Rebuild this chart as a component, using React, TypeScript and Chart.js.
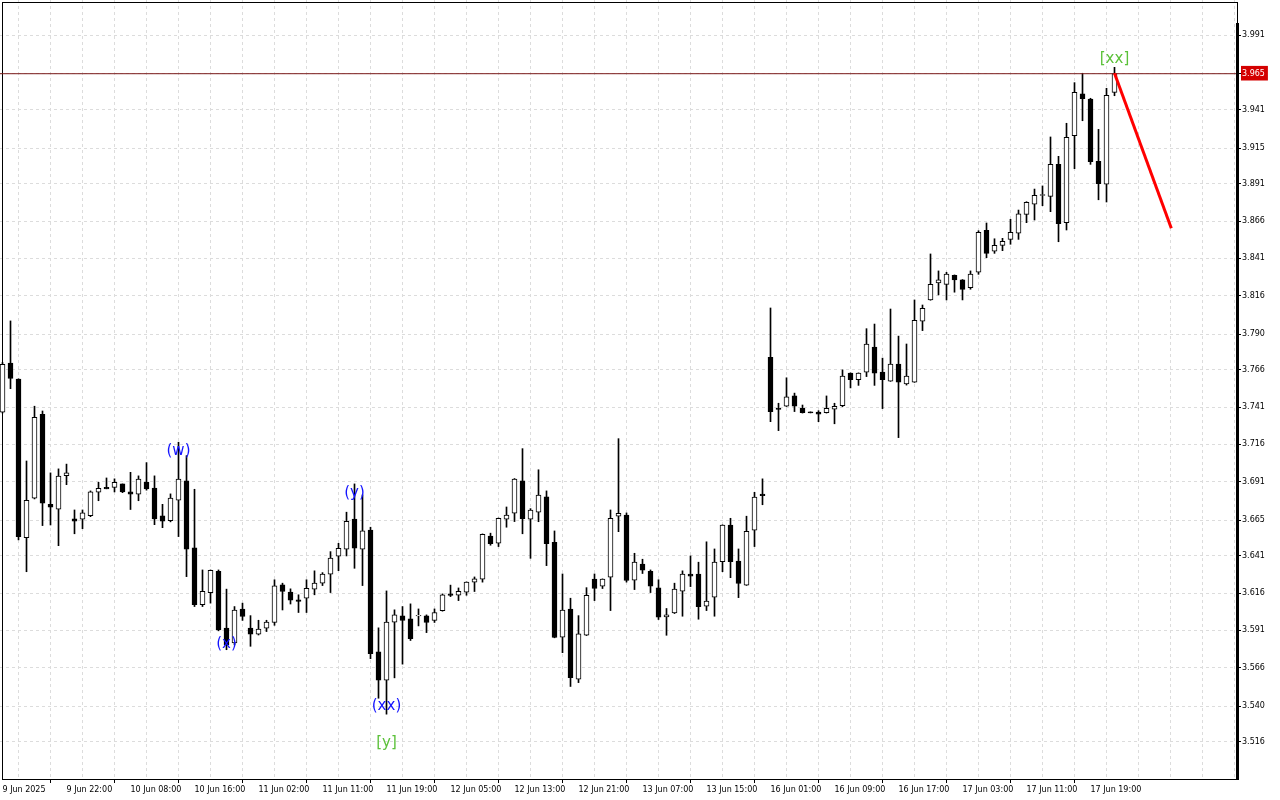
import React, { useEffect, useRef } from 'react';
import { Chart, registerables } from 'chart.js';

Chart.register(...registerables);

// ---- data ----
const xTickLabels = [
  '9 Jun 2025', '9 Jun 22:00', '10 Jun 08:00', '10 Jun 16:00', '11 Jun 02:00', '11 Jun 11:00',
  '11 Jun 19:00', '12 Jun 05:00', '12 Jun 13:00', '12 Jun 21:00', '13 Jun 07:00', '13 Jun 15:00',
  '16 Jun 01:00', '16 Jun 09:00', '16 Jun 17:00', '17 Jun 03:00', '17 Jun 11:00', '17 Jun 19:00',
];
const yTickLabels = [
  '3.991', '3.965', '3.941', '3.915', '3.891', '3.866', '3.841', '3.816', '3.790', '3.766',
  '3.741', '3.716', '3.691', '3.665', '3.641', '3.616', '3.591', '3.566', '3.540', '3.516',
];

const opens = [
  3.7376, 3.7705, 3.7598, 3.6533, 3.6798, 3.7362, 3.6757, 3.6724, 3.6950, 3.6659,
  3.6657, 3.6681, 3.6838, 3.6871, 3.6871, 3.6894, 3.6840, 3.6825, 3.6907, 3.6866,
  3.6679, 3.6647, 3.6784, 3.6914, 3.6464, 3.6083, 3.6164, 3.6307, 3.5925, 3.5826,
  3.6053, 3.5925, 3.5884, 3.5925, 3.5963, 3.6216, 3.6167, 3.6115, 3.6126, 3.6187,
  3.6227, 3.6288, 3.6408, 3.6455, 3.6657, 3.6455, 3.6584, 3.5765, 3.5575, 3.5965,
  3.6007, 3.5988, 3.6007, 3.6007, 3.5976, 3.6043, 3.6155, 3.6146, 3.6167, 3.6234,
  3.6254, 3.6543, 3.6496, 3.6657, 3.6697, 3.6914, 3.6657, 3.6704, 3.6807, 3.6502,
  3.5864, 3.6053, 3.5582, 3.5877, 3.6254, 3.6207, 3.6268, 3.6677, 3.6684, 3.6248,
  3.6355, 3.6307, 3.6196, 3.6001, 3.6028, 3.6173, 3.6288, 3.6288, 3.6073, 3.6133,
  3.6372, 3.6617, 3.6375, 3.6214, 3.6583, 3.6825, 3.7745, 3.7402, 3.7416, 3.7486,
  3.7402, 3.7378, 3.7377, 3.7372, 3.7396, 3.7420, 3.7638, 3.7595, 3.7645, 3.7814,
  3.7645, 3.7585, 3.7699, 3.7565, 3.7578, 3.7987, 3.8130, 3.8244, 3.8235, 3.8296,
  3.8265, 3.8213, 3.8316, 3.8598, 3.8457, 3.8497, 3.8537, 3.8578, 3.8705, 3.8773,
  3.8832, 3.8826, 3.9041, 3.8649, 3.9233, 3.9514, 3.9480, 3.9061, 3.8907, 3.9525,
];
const highs = [
  3.7710, 3.7989, 3.7600, 3.7048, 3.7416, 3.7384, 3.6968, 3.6995, 3.7027, 3.6719,
  3.6719, 3.6847, 3.6905, 3.6934, 3.6928, 3.6894, 3.6972, 3.6948, 3.7037, 3.6948,
  3.6757, 3.6827, 3.7174, 3.7084, 3.6858, 3.6316, 3.6316, 3.6316, 3.6187, 3.6070,
  3.6093, 3.6009, 3.5978, 3.5978, 3.6250, 3.6227, 3.6189, 3.6149, 3.6250, 3.6310,
  3.6298, 3.6439, 3.6495, 3.6704, 3.6894, 3.6820, 3.6603, 3.5927, 3.6175, 3.6048,
  3.6070, 3.6088, 3.6054, 3.6014, 3.6054, 3.6155, 3.6214, 3.6195, 3.6236, 3.6269,
  3.6558, 3.6563, 3.6665, 3.6739, 3.6930, 3.7131, 3.6728, 3.6989, 3.6847, 3.6578,
  3.6289, 3.6126, 3.6009, 3.6197, 3.6289, 3.6256, 3.6719, 3.7198, 3.6699, 3.6428,
  3.6388, 3.6316, 3.6250, 3.6057, 3.6227, 3.6310, 3.6410, 3.6368, 3.6505, 3.6457,
  3.6619, 3.6663, 3.6457, 3.6677, 3.6838, 3.6928, 3.8076, 3.7436, 3.7607, 3.7504,
  3.7424, 3.7378, 3.7386, 3.7485, 3.7436, 3.7660, 3.7640, 3.7640, 3.7937, 3.7968,
  3.7739, 3.8069, 3.7887, 3.7834, 3.8130, 3.8096, 3.8439, 3.8325, 3.8316, 3.8298,
  3.8267, 3.8325, 3.8595, 3.8647, 3.8541, 3.8544, 3.8672, 3.8734, 3.8790, 3.8875,
  3.8896, 3.9225, 3.9095, 3.9317, 3.9590, 3.9653, 3.9485, 3.9276, 3.9552, 3.9693,
];
const lows = [
  3.7370, 3.7534, 3.6518, 3.6304, 3.6793, 3.6614, 3.6618, 3.6479, 3.6889, 3.6559,
  3.6593, 3.6674, 3.6781, 3.6861, 3.6840, 3.6835, 3.6722, 3.6781, 3.6852, 3.6620,
  3.6600, 3.6639, 3.6540, 3.6271, 3.6070, 3.6070, 3.6093, 3.5907, 3.5780, 3.5813,
  3.5977, 3.5803, 3.5879, 3.5902, 3.5944, 3.6047, 3.6087, 3.6030, 3.6030, 3.6149,
  3.6211, 3.6164, 3.6311, 3.6410, 3.6327, 3.6211, 3.5720, 3.5454, 3.5347, 3.5591,
  3.5683, 3.5842, 3.5940, 3.5895, 3.5963, 3.6039, 3.6137, 3.6110, 3.6146, 3.6171,
  3.6234, 3.6482, 3.6473, 3.6603, 3.6641, 3.6559, 3.6394, 3.6640, 3.6345, 3.5860,
  3.5760, 3.5533, 3.5559, 3.5875, 3.6110, 3.6191, 3.6043, 3.6573, 3.6234, 3.6184,
  3.6292, 3.6164, 3.5983, 3.5877, 3.6023, 3.6005, 3.6204, 3.5985, 3.6043, 3.6005,
  3.6304, 3.6264, 3.6130, 3.6212, 3.6473, 3.6754, 3.7312, 3.7252, 3.7414, 3.7380,
  3.7370, 3.7371, 3.7312, 3.7370, 3.7298, 3.7413, 3.7539, 3.7556, 3.7615, 3.7556,
  3.7400, 3.7583, 3.7205, 3.7558, 3.7576, 3.7924, 3.8128, 3.8164, 3.8130, 3.8182,
  3.8130, 3.8202, 3.8302, 3.8414, 3.8443, 3.8461, 3.8504, 3.8537, 3.8649, 3.8667,
  3.8763, 3.8723, 3.8521, 3.8600, 3.9012, 3.9334, 3.9041, 3.8803, 3.8788, 3.9502,
];
const closes = [
  3.7698, 3.7602, 3.6540, 3.6784, 3.7342, 3.6764, 3.6737, 3.6946, 3.6968, 3.6643,
  3.6699, 3.6840, 3.6864, 3.6861, 3.6905, 3.6840, 3.6825, 3.6926, 3.6861, 3.6659,
  3.6643, 3.6798, 3.6926, 3.6455, 3.6083, 3.6173, 3.6314, 3.5913, 3.5813, 3.6046,
  3.6003, 3.5884, 3.5918, 3.5965, 3.6209, 3.6171, 3.6113, 3.6104, 3.6193, 3.6227,
  3.6288, 3.6395, 3.6462, 3.6643, 3.6462, 3.6578, 3.5754, 3.5575, 3.5965, 3.6014,
  3.5976, 3.5854, 3.6011, 3.5963, 3.6030, 3.6149, 3.6144, 3.6173, 3.6234, 3.6256,
  3.6556, 3.6493, 3.6663, 3.6684, 3.6926, 3.6661, 3.6719, 3.6819, 3.6493, 3.5862,
  3.6046, 3.5593, 3.5886, 3.6146, 3.6191, 3.6254, 3.6663, 3.6697, 3.6245, 3.6368,
  3.6314, 3.6207, 3.5999, 3.6014, 3.6187, 3.6288, 3.6274, 3.6070, 3.6106, 3.6368,
  3.6617, 3.6372, 3.6225, 3.6576, 3.6805, 3.6815, 3.7380, 3.7395, 3.7479, 3.7416,
  3.7372, 3.7371, 3.7362, 3.7402, 3.7416, 3.7618, 3.7595, 3.7638, 3.7834, 3.7638,
  3.7595, 3.7699, 3.7578, 3.7618, 3.7993, 3.8074, 3.8235, 3.8265, 3.8303, 3.8265,
  3.8201, 3.8303, 3.8584, 3.8443, 3.8497, 3.8524, 3.8584, 3.8709, 3.8786, 3.8833,
  3.8838, 3.9041, 3.8642, 3.9223, 3.9525, 3.9482, 3.9059, 3.8911, 3.9505, 3.9651,
];

const currentPrice = 3.965;
const forecastIdx = [139, 146.1];
const forecastVals = [3.9653, 3.8611];

const waveTexts = ['(w)', '(x)', '(y)', '(xx)', '[y]', '[xx]'];
const waveIdx = [22, 28, 44, 48, 48, 139];
const waveVals = [3.7115, 3.5818, 3.6831, 3.5404, 3.5155, 3.9749];
const waveDegree = ['minor', 'minor', 'minor', 'minor', 'major', 'major'];

// ---- style ----
const FONT = 'DejaVu Sans';
const GRID = '#dcdcdc';
const DEGREE_COLOR: Record<string, string> = { minor: '#1414ff', major: '#5cc13a' };
const X_MIN = -0.3125;
const X_MAX = 154.4375;
const Y_MIN = 3.49114;
const Y_MAX = 4.01452;

const framePlugin = {
  id: 'frame',
  beforeDatasetsDraw(chart: any) {
    const { ctx, chartArea } = chart;
    ctx.save();
    ctx.strokeStyle = '#000';
    ctx.lineWidth = 1;
    ctx.beginPath();
    ctx.moveTo(2, 2.5);
    ctx.lineTo(chartArea.right, 2.5);
    ctx.moveTo(2.5, 2);
    ctx.lineTo(2.5, chartArea.bottom + 1);
    ctx.moveTo(chartArea.right - 0.5, 2);
    ctx.lineTo(chartArea.right - 0.5, 24);
    ctx.stroke();
    ctx.restore();
  },
  afterDraw(chart: any) {
    const { ctx, chartArea } = chart;
    ctx.save();
    ctx.fillStyle = '#000';
    ctx.fillRect(chartArea.right - 2, 23, 3, chartArea.bottom - 23 + 1);
    ctx.fillRect(2, chartArea.bottom, chartArea.right - 2, 1);
    ctx.restore();
  },
};

const wavePlugin = {
  id: 'waves',
  afterDatasetsDraw(chart: any) {
    const { ctx } = chart;
    const xs = chart.scales.x;
    const ys = chart.scales.y;
    ctx.save();
    ctx.font = `15px "${FONT}"`;
    ctx.textAlign = 'center';
    ctx.textBaseline = 'middle';
    waveTexts.forEach((t, k) => {
      ctx.fillStyle = DEGREE_COLOR[waveDegree[k]];
      ctx.fillText(t, xs.getPixelForValue(waveIdx[k]), ys.getPixelForValue(waveVals[k]));
    });
    ctx.restore();
  },
};

export default function App() {
  const ref = useRef<HTMLCanvasElement>(null);
  useEffect(() => {
    document.body.style.margin = '0';
    const idx = opens.map((_, i) => i);
    const bodyData = idx.map((i) => ({ x: i, y: [opens[i], closes[i]] }));
    const wickData = idx.map((i) => ({ x: i, y: [lows[i], highs[i]] }));
    const bodyFill = idx.map((i) => (closes[i] >= opens[i] ? '#ffffff' : '#000000'));
    const priceLine = [
      { x: X_MIN - 1, y: currentPrice },
      { x: X_MAX + 1, y: currentPrice },
    ];
    const forecast = forecastIdx.map((x, k) => ({ x, y: forecastVals[k] }));
    const isLabelTick = (v: number) => v % 8 === 0 && v / 8 < xTickLabels.length;

    const chart = new Chart(ref.current as HTMLCanvasElement, {
      type: 'bar',
      data: {
        datasets: [
          {
            type: 'bar', label: 'wick', data: wickData as any, backgroundColor: '#000000',
            borderWidth: 0, barThickness: 1, grouped: false, order: 4, clip: false as any,
          },
          {
            type: 'bar', label: 'body', data: bodyData as any, backgroundColor: bodyFill,
            borderColor: '#000000', borderWidth: 1, borderSkipped: false, barThickness: 5,
            grouped: false, order: 3, clip: false as any,
          },
          {
            type: 'line', label: 'price', data: priceLine as any, borderColor: '#7a1a1a',
            borderWidth: 1, pointRadius: 0, order: 2,
          },
          {
            type: 'line', label: 'forecast', data: forecast as any, borderColor: '#ff0000',
            borderWidth: 3, pointRadius: 0, order: 1,
          },
        ] as any,
      },
      options: {
        animation: false,
        responsive: false,
        maintainAspectRatio: false,
        layout: { padding: 0 },
        plugins: { legend: { display: false }, tooltip: { enabled: false } },
        scales: {
          x: {
            type: 'linear',
            min: X_MIN,
            max: X_MAX,
            bounds: 'data',
            offset: false,
            afterFit: (s: any) => {
              s.height = 21;
              s.paddingLeft = 0; s.paddingRight = 0; s.paddingTop = 0; s.paddingBottom = 0;
            },
            afterBuildTicks: (s: any) => {
              const t = [];
              for (let v = 0; v <= 152; v += 4) t.push({ value: v });
              s.ticks = t;
            },
            ticks: {
              autoSkip: false, maxRotation: 0, minRotation: 0, align: 'start',
              padding: 2, color: '#000', font: { family: FONT, size: 8 },
              callback: (v: any) => (isLabelTick(Number(v)) ? xTickLabels[Number(v) / 8] : ''),
            },
            grid: {
              color: GRID, lineWidth: 1, drawTicks: true, tickLength: 4,
              tickColor: (c: any) => (c.tick && isLabelTick(c.tick.value) ? '#000' : 'rgba(0,0,0,0)'),
            },
            border: { display: false, dash: [3, 3] },
          } as any,
          y: {
            type: 'linear',
            position: 'right',
            min: Y_MIN,
            max: Y_MAX,
            bounds: 'data',
            afterFit: (s: any) => {
              s.width = 42;
              s.paddingLeft = 0; s.paddingRight = 0; s.paddingTop = 0; s.paddingBottom = 0;
            },
            afterBuildTicks: (s: any) => {
              s.ticks = yTickLabels.map((l) => ({ value: parseFloat(l) }));
            },
            ticks: {
              autoSkip: false, padding: 1, font: { family: FONT, size: 8 },
              color: (c: any) => (c.index === 1 ? '#ffffff' : '#000000'),
              showLabelBackdrop: (c: any) => c.index === 1,
              backdropColor: '#d40000',
              backdropPadding: { top: 3, bottom: 2, left: 1, right: 3 },
              callback: (_v: any, i: number) => yTickLabels[i],
            },
            grid: { color: GRID, lineWidth: 1, drawTicks: true, tickLength: 3, tickColor: '#000' },
            border: { display: false, dash: [3, 3] },
          } as any,
        },
      },
      plugins: [framePlugin, wavePlugin],
    } as any);
    return () => chart.destroy();
  }, []);

  return (
    <div style={{ width: 1280, height: 800, background: '#ffffff', position: 'relative' }}>
      <canvas ref={ref} width={1280} height={800} style={{ display: 'block' }} />
    </div>
  );
}
